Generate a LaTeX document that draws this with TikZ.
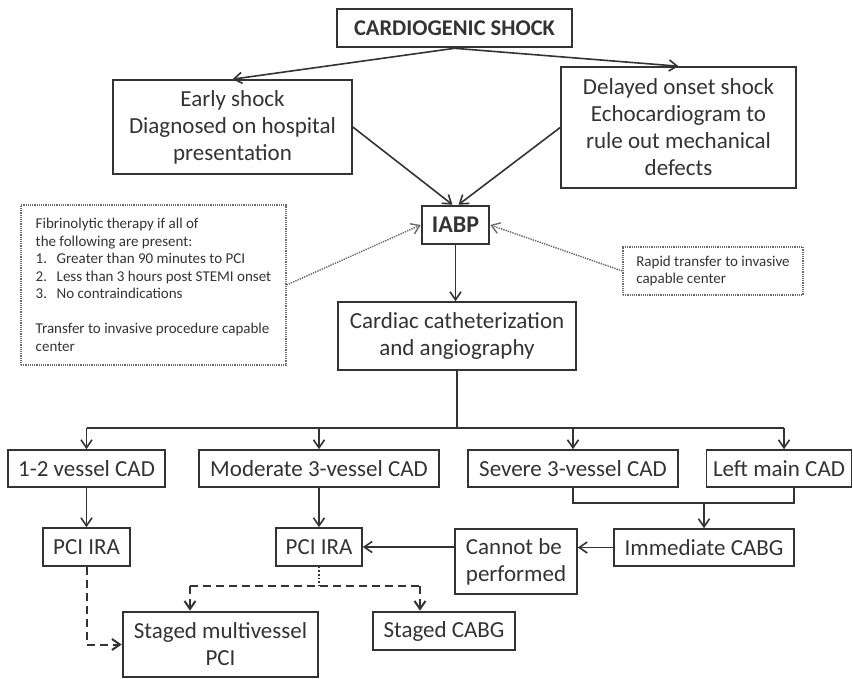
\documentclass[tikz,border=0pt]{standalone}
\usepackage{fontspec}
\setmainfont{Carlito}
\usetikzlibrary{arrows.meta, calc}

\definecolor{ink}{HTML}{333333}

\begin{document}
\begin{tikzpicture}[x=1pt, y=-1pt, >={Straight Barb[length=8pt,width=11pt]},
    box/.style={rectangle, draw=ink, line width=1.6pt, text=ink, inner sep=0pt, align=center, font=\fontsize{23}{27}\selectfont},
    thickbox/.style={box, line width=2.6pt},
    boldbox/.style={thickbox, font=\fontsize{22.5}{26}\selectfont\bfseries},
    note/.style={rectangle, draw=gray!85!black, densely dotted, line width=1.2pt, text=ink, align=left, inner sep=0pt, font=\fontsize{15}{17.5}\selectfont},
    link/.style={->, draw=ink, line width=1.6pt},
    hint/.style={->, draw=gray!85!black, densely dotted, line width=1.4pt},
    dashlink/.style={draw=ink, line width=2pt, dash pattern=on 8pt off 5pt}]
                \useasboundingbox (0,0) rectangle (853,678);
                \node[boldbox, minimum width=235, minimum height=38] (cs) at (454.5,28) {CARDIOGENIC SHOCK};
                \node[box, minimum width=239, minimum height=94] (early) at (232.5,127) {Early shock\\Diagnosed on hospital\\presentation};
                \node[box, minimum width=235, minimum height=121] (delayed) at (678.5,127.5) {Delayed onset shock\\Echocardiogram to\\rule out mechanical\\defects};
                \draw[link] (cs.south) -- (early.north);
                \draw[link] (cs.south) -- (delayed.north);
                \node[boldbox, font=\fontsize{24}{28}\selectfont\bfseries, minimum width=67, minimum height=38] (iabp) at (455.5,225) {IABP};
                \draw[link] (early.east) -- ($(iabp.north)+(-3,0)$);
                \draw[link] (delayed.west) -- ($(iabp.north)+(3,0)$);
                \node[note, minimum width=265, minimum height=160] (fibrino) at (153.5,285) {Fibrinolytic therapy if all of\\the following are present:\\\makebox[21pt][l]{1.}Greater than 90 minutes to PCI\\\makebox[21pt][l]{2.}Less than 3 hours post STEMI onset\\\makebox[21pt][l]{3.}No contraindications\\[17.5pt]Transfer to invasive procedure capable\\center};
                \node[note, minimum width=180, minimum height=48] (rapid) at (713,271) {Rapid transfer to invasive\\capable center};
                \draw[hint] (fibrino.east) -- (iabp.west);
                \draw[hint] (rapid.west) -- (iabp.east);
                \node[box, minimum width=238, minimum height=68] (cath) at (457,336) {Cardiac catheterization\\and angiography};
                \draw[link] (iabp.south) -- (iabp.south |- cath.north);
                % second row
                \node[box, minimum width=157, minimum height=37] (vessel12) at (86.5,468.5) {1-2 vessel CAD};
                \node[box, minimum width=240, minimum height=37] (moderate) at (319,468.5) {Moderate 3-vessel CAD};
                \node[box, minimum width=210, minimum height=37] (severe) at (573,468.5) {Severe 3-vessel CAD};
                \node[box, minimum width=145, minimum height=37] (leftmain) at (779,468.5) {Left main CAD};
                \coordinate (hub) at (457,428);
                \coordinate (barR) at (784,428);
                \draw[draw=ink, line width=1.6pt] (cath.south) -- (hub);
                \draw[draw=ink, line width=1.6pt] (hub -| vessel12.north) -- (barR);
                \foreach \n in {vessel12, moderate, severe}
                    \draw[link] (hub -| \n.north) -- (\n.north);
                \draw[link] (barR) -- (barR |- leftmain.north);
                % third row
                \node[box, minimum width=87, minimum height=38] (pcileft) at (86.5,547) {PCI IRA};
                \node[box, minimum width=86, minimum height=38] (pcimid) at (319,547) {PCI IRA};
                \node[box, align=left, minimum width=122, minimum height=65] (cannot) at (516,561.5) {Cannot be\\performed};
                \node[box, minimum width=180, minimum height=37] (immediate) at (704,547.5) {Immediate CABG};
                \draw[link] (vessel12.south) -- (pcileft.north);
                \draw[link] (moderate.south) -- (pcimid.north);
                \coordinate (join) at (704,503);
                \draw[draw=ink, line width=1.6pt] (severe.south) |- (join) -| ($(leftmain.south)+(15,0)$);
                \draw[link] (join) -- (immediate.north);
                \draw[link] (immediate.west) -- (immediate.west -| cannot.east);
                \draw[link] (pcimid.east -| cannot.west) -- (pcimid.east);
                % staged
                \node[thickbox, minimum width=195, minimum height=65] (stagedmv) at (220.5,644.5) {Staged multivessel\\PCI};
                \node[thickbox, minimum width=142, minimum height=38] (stagedcabg) at (444,631) {Staged CABG};
                \draw[dashlink, ->] (pcileft.south) |- (stagedmv.west);
                \coordinate (split) at (319,586);
                \coordinate (dl) at (190,586);
                \coordinate (dr) at (420,586);
                \draw[draw=ink, line width=1.6pt, dotted] (pcimid.south) -- (split);
                \draw[dashlink] (dl) -- (dr);
                \draw[dashlink, ->] (dl) -- (dl |- stagedmv.north);
                \draw[dashlink, ->] (dr) -- (dr |- stagedcabg.north);
\end{tikzpicture}
\end{document}
